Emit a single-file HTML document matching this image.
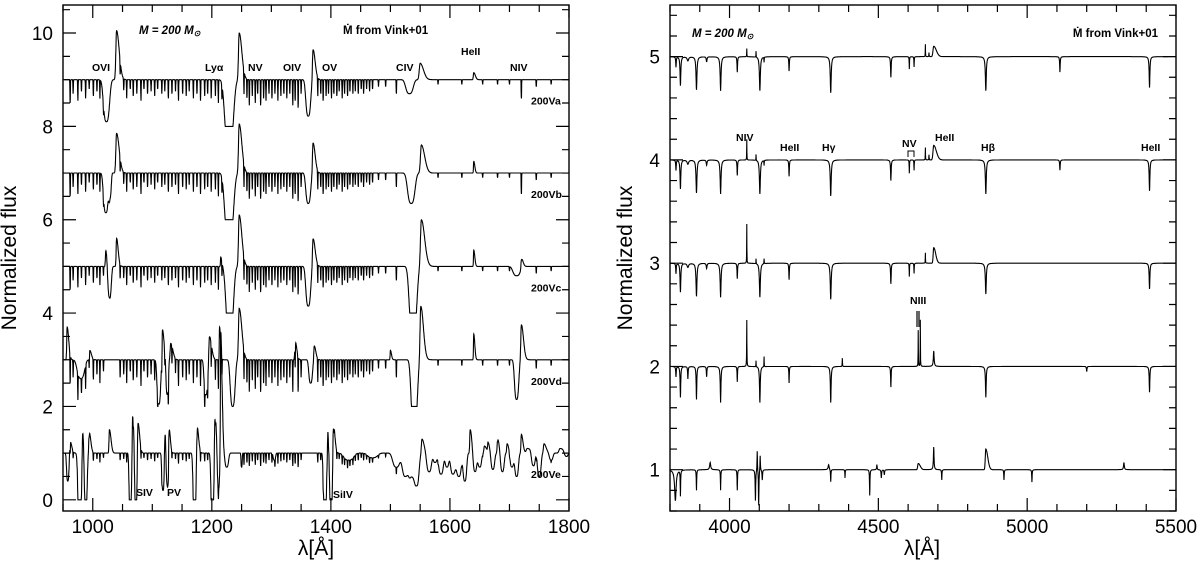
<!DOCTYPE html>
<html><head><meta charset="utf-8">
<style>
html,body{margin:0;padding:0;background:#fff;}
svg{display:block;}
text{font-family:"Liberation Sans",sans-serif;fill:#000;}
.tl{font-size:19px;}
.at{font-size:21px;}
.lb{font-size:10.5px;font-weight:bold;}
.hd{font-size:11.5px;font-weight:bold;}
</style></head>
<body>
<svg id="fig" width="1200" height="568" viewBox="0 0 1200 568" xmlns="http://www.w3.org/2000/svg">
<g id="left"></g>
<g id="right"></g>
</svg>
<script>
// ---------- LEFT PANEL DATA (UV) ----------
const leftXTicks = [1000, 1200, 1400, 1600, 1800];
const leftYTicks = [0, 2, 4, 6, 8, 10];
const leftOffsets = [8, 6, 4, 2, 0];
const leftNames = ["200Va", "200Vb", "200Vc", "200Vd", "200Ve"];
const leftForestScale = [1.0, 1.0, 1.0, 1.25, 0.5];
// [wavelength, depth] narrow absorption lines
const forest = [[962,0.5],[967,0.3],[975,0.45],[981,0.25],[988,0.4],[994,0.2],[1001,0.35],[1007,0.25],[1012,0.4],[1018,0.2],
[1046,0.3],[1052,0.25],[1057,0.4],[1063,0.2],[1068,0.35],[1074,0.3],[1081,0.45],[1086,0.2],[1092,0.3],[1098,0.25],
[1104,0.35],[1109,0.2],[1116,0.3],[1121,0.25],[1127,0.4],[1133,0.3],[1139,0.25],[1144,0.45],[1151,0.3],[1157,0.35],
[1162,0.25],[1169,0.4],[1175,0.3],[1181,0.45],[1188,0.35],[1193,0.3],[1199,0.4],[1206,0.35],[1211,0.5],[1217,0.3],
[1254,0.5],[1259,0.4],[1263,0.55],[1268,0.35],[1273,0.5],[1277,0.3],[1282,0.55],[1287,0.4],[1291,0.45],[1296,0.3],
[1301,0.4],[1306,0.3],[1311,0.45],[1316,0.35],[1321,0.3],[1326,0.4],[1331,0.3],[1336,0.55],[1340,0.45],[1345,0.6],
[1350,0.3],[1378,0.4],[1383,0.3],[1387,0.45],[1392,0.35],[1396,0.3],[1401,0.4],[1405,0.3],[1410,0.35],[1414,0.25],
[1419,0.4],[1423,0.3],[1428,0.35],[1432,0.25],[1437,0.3],[1441,0.25],[1446,0.3],[1451,0.2],[1455,0.3],[1460,0.2],
[1465,0.25],[1470,0.2],[1480,0.15],[1492,0.15],[1510,0.3],[1580,0.1],[1620,0.1],[1655,0.1],[1680,0.1],[1700,0.1],[1745,0.15],[1770,0.1]];
// features: [wavelength, amplitude (+emission / -absorption), width]
const specA = [[1023,-0.9,5],[1040,1.05,2],[1229,-1.5,7],[1246,1.0,2],[1362,-0.78,4],[1370,0.65,1.6],[1532,-0.3,6],[1550,0.35,2.5],[1640,0.15,1.2],[1720,-0.4,0.4]];
const specB = [[1022,-0.85,4],[1029,-0.5,2],[1040,0.85,2],[1229,-1.5,7],[1246,1.05,2],[1362,-0.65,4],[1370,0.65,1.6],[1535,-0.65,6],[1552,0.6,2.5],[1640,0.25,0.8],[1720,-0.45,0.4]];
const specC = [[1022,0.35,1.2],[1028,-0.7,3],[1040,0.6,1.2],[1215,0.2,0.8],[1230,-1.5,6],[1246,1.1,2],[1362,-0.85,4],[1370,0.6,1.6],[1538,-1.5,6],[1552,1.0,2.5],[1640,0.35,0.8],[1712,-0.2,6],[1720,0.2,1.2]];
const specD = [[957,0.7,1.2],[980,-0.4,6],[995,0.2,1.2],[1111,-0.95,3],[1117,0.65,1.2],[1125,-0.75,2],[1131,0.35,1.6],[1190,-0.75,3],[1196,0.5,1.6],[1213,0.7,0.8],[1235,-1.0,4],[1246,1.1,2],[1340,0.4,1.2],[1366,-0.5,3],[1372,0.3,1.2],[1500,0.2,0.8],[1540,-1.5,5],[1551,1.15,2],[1640,0.55,0.8],[1712,-0.85,3.5],[1720,0.75,1.6]];
const specE = [[958,-0.6,2],[962,0.25,1.2],[978,-1.3,3],[983,0.55,1.2],[988,-1.3,2.5],[994,0.45,1.2],[1028,0.5,1.2],[1063,-1.3,2],[1067,0.8,1.2],[1072,-1.3,2],[1076,0.65,1.2],[1118,-0.8,2],[1121,0.55,1],[1125,-0.8,2],[1128,0.55,1],[1171,-1.3,2.5],[1175,0.6,1.2],[1201,-1.3,2.5],[1205,0.85,1.2],[1211,-0.8,2],[1215,2.6,1],[1225,-0.3,3],[1250,-0.3,1],[1305,-0.15,2],[1390,-1.3,2.5],[1395,0.5,1],[1400,-1.3,2.5],[1404,0.65,1.2],
[1430,-0.15,8],[1470,-0.1,8],[1510,-0.3,6],[1525,-0.5,5],[1535,-0.5,4],[1544,-0.7,4],[1553,0.3,1.6],[1565,-0.4,4],[1575,-0.2,3],[1585,-0.45,4],[1595,-0.3,3],[1605,-0.45,4],[1615,-0.5,4],[1625,-0.6,3],[1634,0.5,1.2],[1642,-0.4,3],[1650,-0.3,3],[1658,0.15,1.6],[1664,0.2,1.2],[1672,-0.35,3],[1680,0.3,1.2],[1688,-0.4,3],[1696,0.2,1.2],[1704,-0.3,3],[1712,-0.5,3],[1720,0.4,1.2],[1730,0.1,3],[1740,-0.3,3],[1750,-0.5,3],[1758,0.2,1.6],[1770,-0.15,3],[1785,0.1,3],[1795,-0.1,3]];
const leftSpecs = [specA, specB, specC, specD, specE];

// ---------- RIGHT PANEL DATA (optical) ----------
const rightXTicks = [4000, 4500, 5000, 5500];
const rightYTicks = [1, 2, 3, 4, 5];
const rightOffsets = [4, 3, 2, 1, 0];
// features: [wavelength, amplitude, half-width]
const opt5 = [[3820,-0.1,1],[3835,-0.28,1.5],[3860,-0.04,3],[3889,-0.32,1.8],[3923,-0.05,1.5],[3970,-0.33,1.8],[4026,-0.15,1],[4058,0.08,0.4],[4089,0.06,0.4],[4102,-0.33,1.8],[4116,-0.05,0.5],[4200,-0.14,1],[4340,-0.35,1.8],[4542,-0.2,1.2],[4604,-0.12,0.6],[4620,-0.1,0.6],[4658,0.12,0.4],[4670,0.04,0.5],[4686,0.1,4],[4861,-0.33,1.8],[5110,-0.15,1],[5411,-0.3,1.4]];
const opt4 = [[3820,-0.1,1],[3835,-0.28,1.5],[3860,-0.04,3],[3889,-0.32,1.8],[3923,-0.05,1.5],[3970,-0.33,1.8],[4026,-0.15,1],[4058,0.2,0.4],[4089,0.06,0.4],[4102,-0.33,1.8],[4116,-0.05,0.5],[4200,-0.16,1],[4340,-0.35,1.8],[4542,-0.2,1.2],[4604,-0.13,0.6],[4620,-0.1,0.6],[4658,0.12,0.4],[4670,0.05,0.5],[4686,0.14,4],[4861,-0.33,1.8],[5110,-0.1,1],[5411,-0.3,1.4]];
const opt3 = [[3820,-0.1,1],[3835,-0.28,1.5],[3860,-0.04,3],[3889,-0.32,1.8],[3923,-0.05,1.5],[3970,-0.33,1.8],[4026,-0.15,1],[4058,0.38,0.4],[4089,0.05,0.4],[4102,-0.33,1.8],[4116,0.05,0.5],[4200,-0.16,1],[4340,-0.35,1.8],[4542,-0.2,1.2],[4604,-0.13,0.6],[4620,-0.1,0.6],[4658,0.1,0.4],[4686,0.15,3],[4861,-0.3,1.8],[5411,-0.25,1.4]];
const opt2 = [[3820,-0.1,1],[3835,-0.3,1.2],[3860,-0.12,1],[3889,-0.32,1.2],[3923,-0.1,1],[3970,-0.35,1.4],[4026,-0.15,0.8],[4058,0.45,0.5],[4089,0.06,0.4],[4102,-0.35,1.4],[4116,0.1,0.4],[4200,-0.16,0.8],[4340,-0.35,1.4],[4379,0.08,0.5],[4542,-0.2,1],[4634,0.35,0.4],[4641,0.45,0.4],[4686,0.15,1.5],[4861,-0.3,1.4],[5200,-0.05,1],[5411,-0.25,1.2]];
const opt1 = [[3818,-0.3,3],[3835,-0.25,0.8],[3889,-0.2,0.8],[3935,0.07,2],[3970,-0.2,0.8],[4026,-0.2,0.8],[4087,-0.3,1],[4093,0.2,0.8],[4098,-0.35,1],[4103,0.15,0.8],[4110,-0.1,1],[4333,0.05,2],[4340,-0.12,0.8],[4388,-0.08,0.6],[4471,-0.25,0.8],[4495,0.05,1],[4510,-0.08,1],[4520,-0.05,1],[4634,0.06,3],[4686,0.22,1.2],[4713,-0.1,0.8],[4861,0.2,3],[4922,-0.1,0.8],[5016,-0.12,0.8],[5325,0.07,1.5]];
const rightSpecs = [opt5, opt4, opt3, opt2, opt1];

const NS = "http://www.w3.org/2000/svg";
function mk(tag, attrs, parent) {
  const e = document.createElementNS(NS, tag);
  for (const k in attrs) e.setAttribute(k, attrs[k]);
  parent.appendChild(e);
  return e;
}

function panel(g, box, xr, yr, xt, xMinor, yt, yMinor) {
  const sx = v => box.x0 + (v - xr[0]) / (xr[1] - xr[0]) * (box.x1 - box.x0);
  const sy = v => box.y1 - (v - yr[0]) / (yr[1] - yr[0]) * (box.y1 - box.y0);
  const fr = mk("rect", {x: box.x0, y: box.y0, width: box.x1 - box.x0, height: box.y1 - box.y0, fill: "none", stroke: "#000", "stroke-width": 1.4}, g);
  
  
  let d = "";
  for (let v = Math.ceil(xr[0] / xMinor) * xMinor; v <= xr[1] + 1e-6; v += xMinor) {
    const major = xt.some(t => Math.abs(t - v) < 1e-6);
    const L = major ? 13 : 7, X = sx(v);
    d += `M${X},${box.y1}v${-L}M${X},${box.y0}v${L}`;
  }
  for (let v = Math.ceil(yr[0] / yMinor - 1e-6) * yMinor; v <= yr[1] + 1e-6; v += yMinor) {
    const major = yt.some(t => Math.abs(t - v) < 1e-6);
    const L = major ? 13 : 7, Y = sy(v);
    d += `M${box.x0},${Y}h${L}M${box.x1},${Y}h${-L}`;
  }
  const tk = mk("path", {d: d, stroke: "#000", "stroke-width": 1.2, fill: "none"}, g);
  
  
  xt.forEach(v => {
    const t = mk("text", {x: sx(v), y: box.y1 + 22, "text-anchor": "middle", class: "tl"}, g);
    t.textContent = v;
    
    
  });
  yt.forEach(v => {
    const t = mk("text", {x: box.x0 - 10, y: sy(v) + 7, "text-anchor": "end", class: "tl"}, g);
    t.textContent = v;
    
    
  });
  return {sx, sy};
}

function emis(l, c, a, w) {
  const dx = l - c, ww = dx < 0 ? w * 0.6 : w * 2.2;
  return a * Math.exp(-0.5 * (dx / ww) * (dx / ww));
}

// LEFT
const gl = document.getElementById("left");
const L = panel(gl, {x0: 63, x1: 569, y0: 5, y1: 511}, [950, 1800], [-0.24, 10.6], leftXTicks, 50, leftYTicks, 0.5);
leftSpecs.forEach((spec, i) => {
  let d = "";
  for (let l = 952; l <= 1800; l += 0.2) {
    let f = 1;
    spec.forEach(([c, a, w]) => {
      if (a > 0) f += emis(l, c, a, w);
      else { const z = Math.abs((l - c) / w); f += a * Math.exp(-0.5 * z * z * z); }
    });
    forest.forEach(([c, a]) => { const z = (l - c) / 0.35; f -= a * leftForestScale[i] * Math.exp(-0.5 * z * z); });
    if (f < 0) f = 0;
    d += (d ? "L" : "M") + L.sx(l).toFixed(1) + "," + L.sy(f + leftOffsets[i]).toFixed(1);
  }
  const p = mk("path", {d: d, fill: "none", stroke: "#000", "stroke-width": 1.1}, gl);
  
  
  const t = mk("text", {x: 531, y: L.sy(leftOffsets[i] + 0.55) + 4, class: "lb"}, gl);
  t.textContent = leftNames[i];
  
  
});

// RIGHT
const gr = document.getElementById("right");
const R = panel(gr, {x0: 670, x1: 1176, y0: 5, y1: 511}, [3800, 5500], [0.6, 5.5], rightXTicks, 100, rightYTicks, 0.2);
rightSpecs.forEach((spec, i) => {
  let d = "";
  for (let l = 3801; l <= 5500; l += 0.5) {
    let f = 1;
    spec.forEach(([c, a, w]) => {
      const z = (l - c) / w;
      if (a > 0 && w > 2) f += emis(l, c, a, w);
      else f += a / (1 + z * z);
    });
    d += (d ? "L" : "M") + R.sx(l).toFixed(1) + "," + R.sy(f + rightOffsets[i]).toFixed(1);
  }
  const p = mk("path", {d: d, fill: "none", stroke: "#000", "stroke-width": 1.1}, gr);
  
  
});
</script>
<svg width="1200" height="568" style="position:absolute;left:0;top:0" xmlns="http://www.w3.org/2000/svg">
<text x="16" y="258" class="at" text-anchor="middle" transform="rotate(-90 16 258)">Normalized flux</text>
<text x="632" y="258" class="at" text-anchor="middle" transform="rotate(-90 632 258)">Normalized flux</text>
<text x="316" y="555" class="at" text-anchor="middle">λ[Å]</text>
<text x="922" y="555" class="at" text-anchor="middle">λ[Å]</text>
<text x="139" y="34" class="hd" font-style="italic">M = 200 M<tspan font-size="8" dy="2">⊙</tspan></text>
<text x="343" y="34" class="hd">Ṁ from Vink+01</text>
<text x="692" y="37" class="hd" font-style="italic">M = 200 M<tspan font-size="8" dy="2">⊙</tspan></text>
<text x="1158" y="37" class="hd" text-anchor="end">Ṁ from Vink+01</text>
<g class="lb">
<text x="92" y="71">OVI</text><text x="205" y="71">Lyα</text><text x="248" y="71">NV</text>
<text x="283" y="71">OIV</text><text x="322" y="71">OV</text><text x="396" y="71">CIV</text>
<text x="461" y="55">HeII</text><text x="510" y="71">NIV</text>
<text x="136" y="496">SIV</text><text x="167" y="496">PV</text><text x="333" y="498">SiIV</text>
</g>
<g class="lb">
<text x="736" y="141">NIV</text><text x="780" y="151">HeII</text><text x="822" y="151">Hγ</text>
<text x="902" y="147">NV</text><text x="935" y="141">HeII</text><text x="981" y="151">Hβ</text><text x="1141" y="151">HeII</text>
<text x="910" y="304">NIII</text>
</g>
<path d="M908,157v-6h6v6" fill="none" stroke="#000" stroke-width="1"/>
<path d="M917,311v16M919,311v16" stroke="#000" stroke-width="1.2"/>
</svg>
</body></html>
